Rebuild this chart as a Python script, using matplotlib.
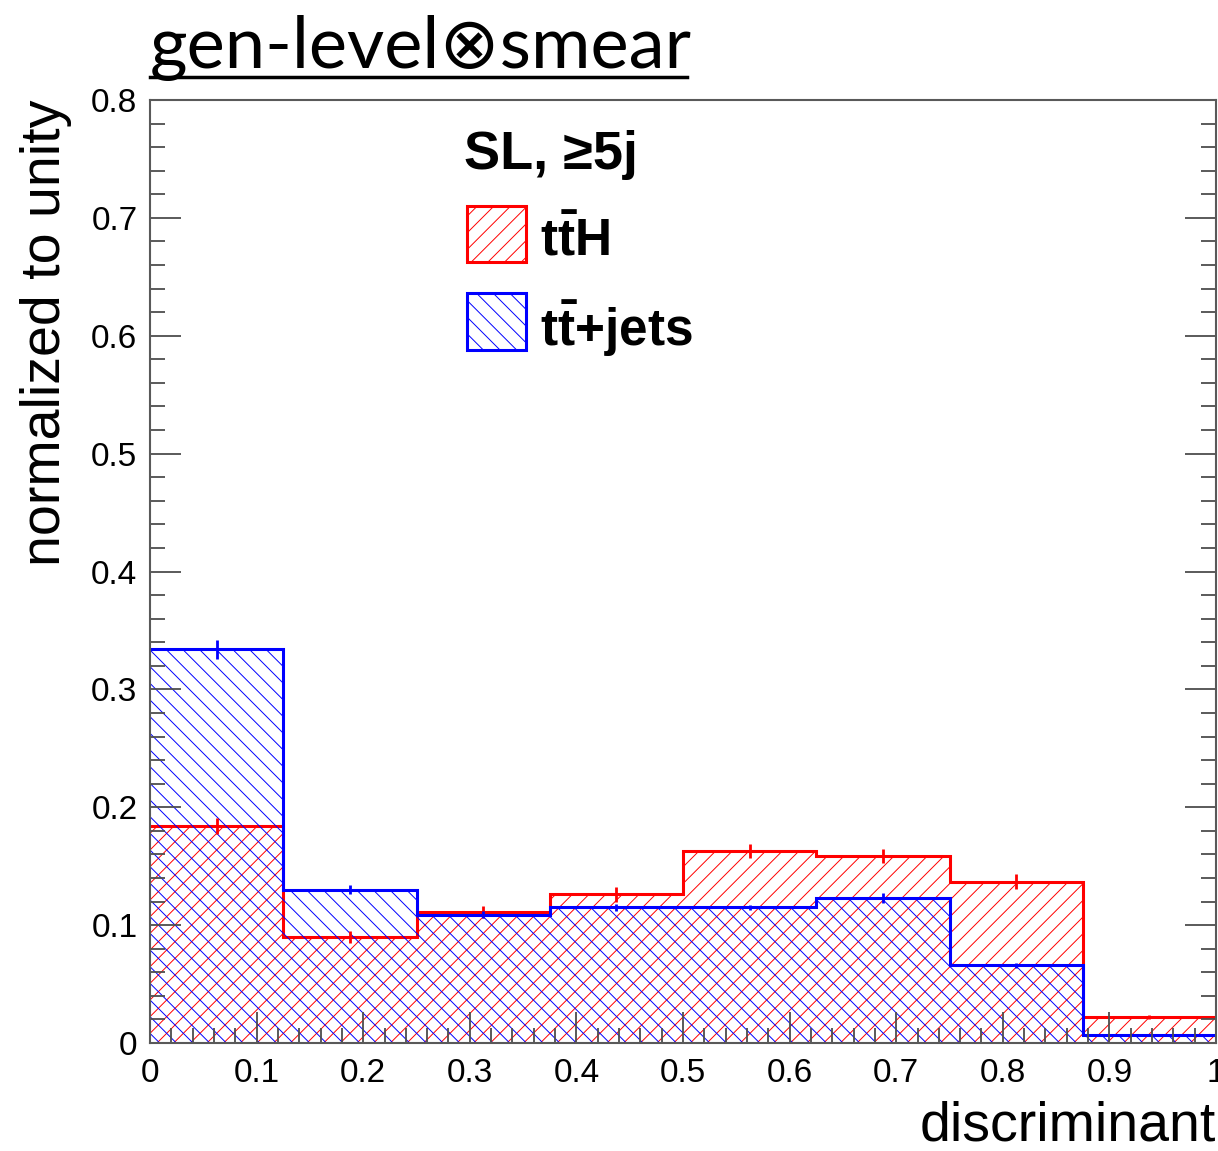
import matplotlib
matplotlib.use("Agg")
import matplotlib.pyplot as plt
from matplotlib.patches import Rectangle
from matplotlib.lines import Line2D
from matplotlib.ticker import MultipleLocator, FormatStrFormatter
import numpy as np

plt.rcParams["font.family"] = ["Liberation Sans", "DejaVu Sans"]
plt.rcParams["mathtext.fontset"] = "custom"
plt.rcParams["mathtext.rm"] = "Liberation Sans"
plt.rcParams["mathtext.bf"] = "Liberation Sans:bold"
plt.rcParams["hatch.linewidth"] = 0.7

# 8 equal bins on the discriminant
bin_edges = [0.0, 0.125, 0.25, 0.375, 0.5, 0.625, 0.75, 0.875, 1.0]
tth_values = [0.184, 0.090, 0.111, 0.126, 0.163, 0.159, 0.137, 0.022]
tth_errors = [0.007, 0.005, 0.005, 0.006, 0.006, 0.006, 0.006, 0.002]
ttjets_values = [0.334, 0.130, 0.109, 0.115, 0.115, 0.123, 0.066, 0.007]
ttjets_errors = [0.008, 0.004, 0.003, 0.003, 0.002, 0.004, 0.002, 0.001]

RED = "#ff0000"
BLUE = "#0000ff"

W, H = 1218, 1151
fig = plt.figure(figsize=(W / 100, H / 100), dpi=100)
ax = fig.add_axes([150 / W, 1 - 1043 / H, 1066 / W, 943 / H])

edges = np.array(bin_edges)
centers = 0.5 * (edges[:-1] + edges[1:])

for vals, errs, col, hatch in [
    (tth_values, tth_errors, RED, "//"),
    (ttjets_values, ttjets_errors, BLUE, "\\\\"),
]:
    ax.stairs(vals, edges, fill=True, facecolor="none", edgecolor=col,
              hatch=hatch, linewidth=0)
    ax.stairs(vals, edges, baseline=None, color=col, linewidth=2.2)
    ax.errorbar(centers, vals, yerr=errs, fmt="none", ecolor=col,
                elinewidth=2, capsize=0)

ax.set_xlim(0, 1)
ax.set_ylim(0, 0.8)
ax.xaxis.set_major_locator(MultipleLocator(0.1))
ax.xaxis.set_minor_locator(MultipleLocator(0.02))
ax.yaxis.set_major_locator(MultipleLocator(0.1))
ax.yaxis.set_minor_locator(MultipleLocator(0.02))
ax.xaxis.set_major_formatter(FormatStrFormatter("%g"))
ax.yaxis.set_major_formatter(FormatStrFormatter("%g"))
ax.tick_params(which="both", direction="in", left=True, right=True,
               bottom=True, top=False, labelsize=24, color="0.3", width=1.3)
ax.tick_params(which="major", length=22)
ax.tick_params(which="minor", length=11)
ax.tick_params(axis="x", pad=11)
ax.tick_params(axis="y", pad=9)
for sp in ax.spines.values():
    sp.set_color("0.35")
    sp.set_linewidth(1.5)

ax.set_xlabel("discriminant", fontsize=40, loc="right", labelpad=8)
ax.set_ylabel("normalized to unity", fontsize=40, loc="top", labelpad=14)

# legend drawn by hand in axes fraction
ax.text(0.295, 0.942, "SL, \u22655j", transform=ax.transAxes, fontsize=39,
        fontweight="bold", va="center", ha="left")
for y0, col, hatch, label in [
    (0.828, RED, "//", r"$\mathbf{t\bar{t}H}$"),
    (0.735, BLUE, "\\\\", r"$\mathbf{t\bar{t}{+}jets}$"),
]:
    ax.add_patch(Rectangle((0.297, y0), 0.056, 0.060, transform=ax.transAxes,
                           facecolor="none", edgecolor=col, hatch=hatch,
                           linewidth=2.2, clip_on=False))
    ax.text(0.366, y0 + 0.022, label, transform=ax.transAxes, fontsize=37,
            va="center", ha="left")

# slide title with underline
fig.text(150 / W, 1 - 68 / H, "gen-level\u2297smear", fontsize=52,
         family=["Lato", "DejaVu Sans"], va="baseline", ha="left")
fig.add_artist(Line2D([150 / W, 687 / W], [1 - 77 / H, 1 - 77 / H],
                      transform=fig.transFigure, color="black", linewidth=2.5))

fig.savefig("out.png", dpi=100)
